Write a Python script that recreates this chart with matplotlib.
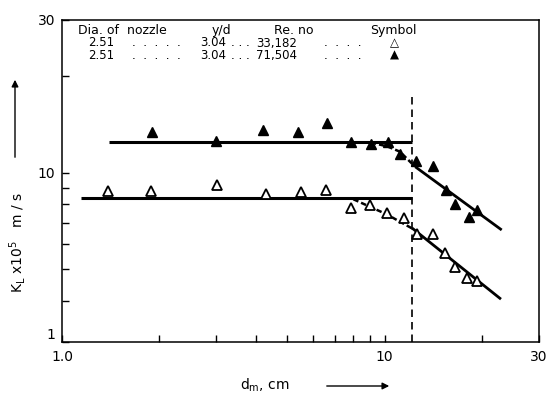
import matplotlib
matplotlib.use("Agg")
import matplotlib.pyplot as plt

# Re = 71,504 (filled triangles)
hi_x = [1.90, 3.00, 4.21, 5.38, 6.64, 7.87, 9.06, 10.27, 11.16, 12.49, 14.16, 15.47, 16.53, 18.31, 19.30]
hi_y = [13.4, 12.6, 13.6, 13.45, 14.35, 12.5, 12.3, 12.5, 11.5, 10.9, 10.5, 8.85, 7.99, 7.31, 7.67]

# Re = 33,182 (open triangles)
lo_x = [1.39, 1.89, 3.02, 4.28, 5.50, 6.57, 7.85, 9.01, 10.2, 11.48, 12.58, 14.16, 15.39, 16.53, 17.97, 19.30]
lo_y = [8.79, 8.80, 9.15, 8.60, 8.70, 8.85, 7.76, 7.95, 7.49, 7.22, 6.44, 6.45, 5.64, 5.10, 4.69, 4.60]

# fitted lines
hi_flat_x = [1.40, 12.2]
hi_flat_y = [12.5, 12.5]
hi_curve_x = [9.06, 10.2, 11.16, 12.15]
hi_curve_y = [12.45, 12.1, 11.65, 10.7]
hi_slope_x = [12.44, 23.07]
hi_slope_y = [10.46, 6.64]

lo_flat_x = [1.145, 12.2]
lo_flat_y = [8.34, 8.34]
lo_curve_x = [8.0, 10.15, 12.15]
lo_curve_y = [8.28, 7.43, 6.72]
lo_slope_x = [12.15, 22.95]
lo_slope_y = [6.74, 4.04]

x_crit = 12.2
crit_top = 17.5
y_bottom = 2.97

fig = plt.figure(figsize=(5.46, 3.99), dpi=100)
ax = fig.add_axes([62 / 546, 57 / 399, 476.5 / 546, 322 / 399])
ax.set_xscale('log')
ax.set_yscale('log')
ax.set_xlim(1, 30)
ax.set_ylim(y_bottom, 30)

ax.plot(hi_flat_x, hi_flat_y, color='black', lw=2.2, solid_capstyle='butt')
ax.plot(hi_curve_x, hi_curve_y, color='black', lw=1.8, ls=(0, (2.2, 1.2)))
ax.plot(hi_slope_x, hi_slope_y, color='black', lw=2.0, solid_capstyle='butt')
ax.plot(lo_flat_x, lo_flat_y, color='black', lw=2.2, solid_capstyle='butt')
ax.plot(lo_curve_x, lo_curve_y, color='black', lw=1.8, ls=(0, (2.2, 1.2)))
ax.plot(lo_slope_x, lo_slope_y, color='black', lw=2.0, solid_capstyle='butt')
ax.vlines(x_crit, y_bottom, crit_top, color='black', lw=1.2, ls=(0, (4.5, 3)))

ax.plot(hi_x, hi_y, ls='none', marker='^', ms=7.5, color='black', zorder=5)
ax.plot(lo_x, lo_y, ls='none', marker='^', ms=7.5, mfc='white', mec='black',
        mew=1.3, zorder=5)

for s in ax.spines.values():
    s.set_linewidth(1.1)

ax.set_xticks([1, 10, 30], ['1.0', '10', '30'])
ax.set_xticks([2, 3, 4, 5, 6, 7, 8, 9, 20], minor=True)
ax.set_yticks([y_bottom, 10, 30], ['1', '10', '30'])
ax.set_yticks([4, 5, 6, 7, 8, 9, 20], minor=True)
ax.yaxis.set_minor_formatter(plt.NullFormatter())
ax.xaxis.set_minor_formatter(plt.NullFormatter())
ax.tick_params(which='both', direction='in', length=5, width=1, labelsize=10)
ax.tick_params(axis='x', pad=6)
ax.tick_params(axis='y', pad=5)
ax.get_yticklabels()[0].set_va('bottom')

# header text block
fs = 8.5
def fx(px):
    return (px - 62) / 476.5
def fy(py):
    return (342 - py) / 322

header = [(78, 'Dia. of  nozzle'), (212, 'y/d'), (274, 'Re. no'), (370, 'Symbol')]
for px, s in header:
    ax.text(fx(px), fy(30.5), s, transform=ax.transAxes, fontsize=fs + 0.5, va='center')

rows = [(43, '33,182', '\u25b3'), (55.5, '71,504', '\u25b2')]
for py, re_no, sym in rows:
    ax.text(fx(88), fy(py), '2.51', transform=ax.transAxes, fontsize=fs, va='center')
    ax.text(fx(132), fy(py), '.  .  .  .  .', transform=ax.transAxes, fontsize=fs, va='center')
    ax.text(fx(200), fy(py), '3.04', transform=ax.transAxes, fontsize=fs, va='center')
    ax.text(fx(231), fy(py), '. . .', transform=ax.transAxes, fontsize=fs, va='center')
    ax.text(fx(256), fy(py), re_no, transform=ax.transAxes, fontsize=fs, va='center')
    ax.text(fx(324), fy(py), '.  .  .  .', transform=ax.transAxes, fontsize=fs, va='center')
    ax.text(fx(394), fy(py), sym, transform=ax.transAxes, fontsize=fs, va='center', ha='center')

# axis labels with arrows
fig.text(265 / 546, 1 - 385 / 399, 'd$_{\\rm m}$, cm', fontsize=10, ha='center', va='center')
fig.add_artist(matplotlib.patches.FancyArrowPatch(
    (324 / 546, 1 - 386 / 399), (392 / 546, 1 - 386 / 399), transform=fig.transFigure,
    arrowstyle='-|>', mutation_scale=10, color='black', lw=1))
fig.text(18 / 546, 1 - 243 / 399, 'K$_{\\rm L}$ x10$^5$   m / s', fontsize=10,
         rotation=90, ha='center', va='center')
fig.add_artist(matplotlib.patches.FancyArrowPatch(
    (15 / 546, 1 - 160 / 399), (15 / 546, 1 - 77 / 399), transform=fig.transFigure,
    arrowstyle='-|>', mutation_scale=10, color='black', lw=1))

fig.savefig('out.png', dpi=100)
